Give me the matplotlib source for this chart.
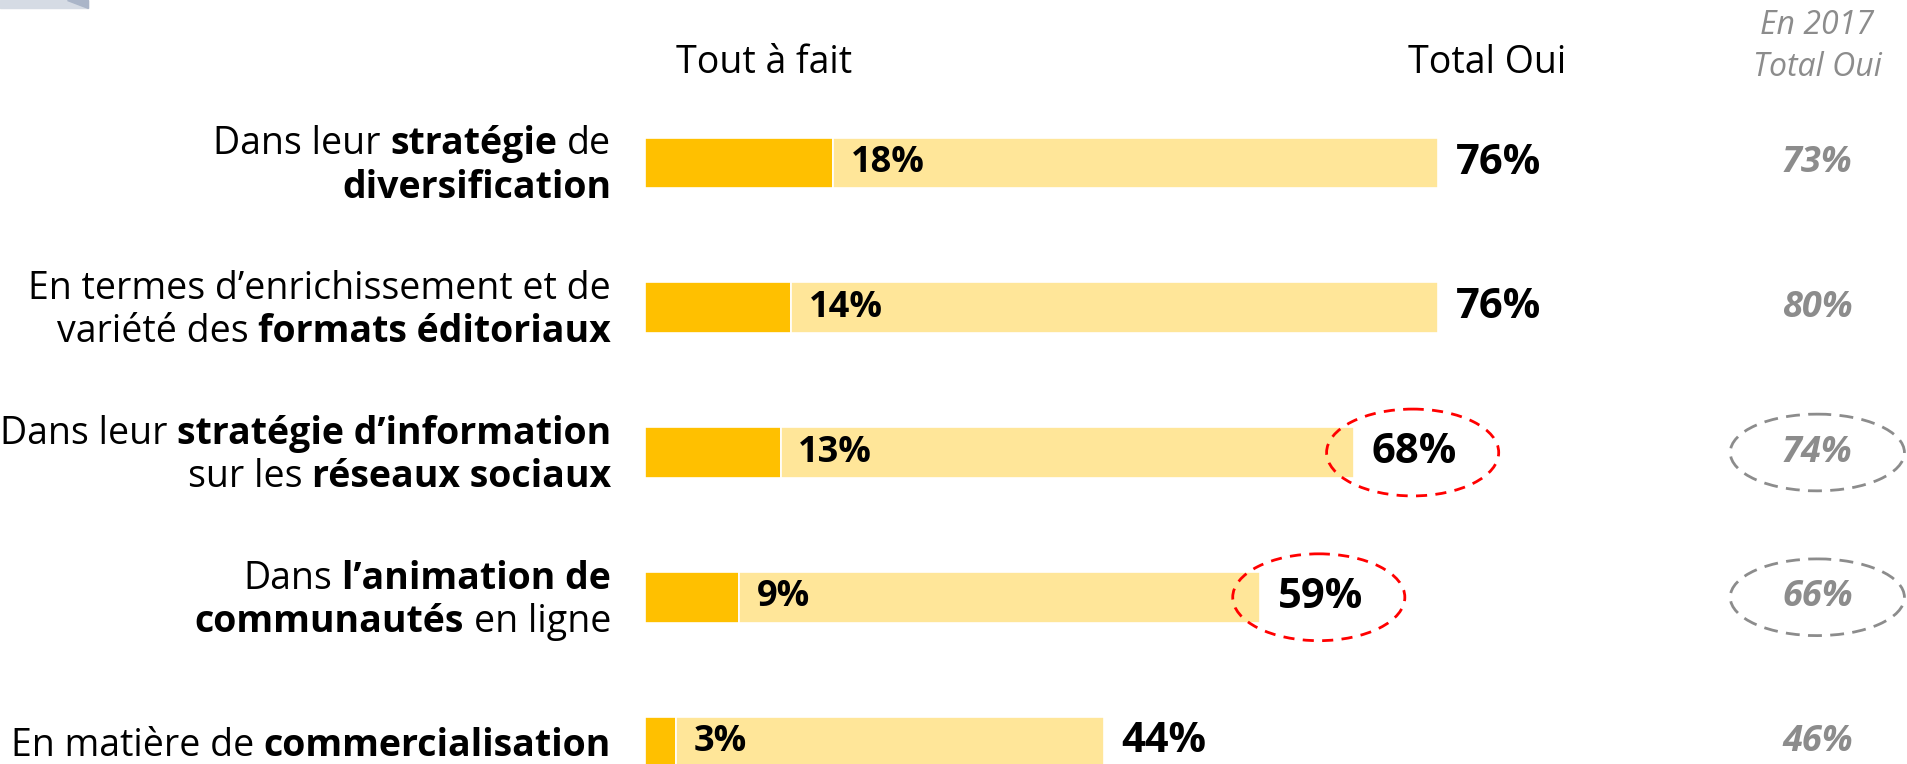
import matplotlib.pyplot as plt
import matplotlib.transforms as mtransforms
from matplotlib.patches import Ellipse, Rectangle, Polygon

# data
labels = [
    [[("Dans leur ", False), ("stratégie", True), (" de", False)],
     [("diversification", True)]],
    [[("En termes d’enrichissement et de", False)],
     [("variété des ", False), ("formats éditoriaux", True)]],
    [[("Dans leur ", False), ("stratégie d’information", True)],
     [("sur les ", False), ("réseaux sociaux", True)]],
    [[("Dans ", False), ("l’animation de", True)],
     [("communautés", True), (" en ligne", False)]],
    [[("En matière de ", False), ("commercialisation", True)]],
]
tout_a_fait = [18, 14, 13, 9, 3]
total_oui = [76, 76, 68, 59, 44]
total_2017 = [73, 80, 74, 66, 46]
highlight = [False, False, True, True, False]

DARK = "#FFC000"
LIGHT = "#FFE699"
GREY = "#8c8c8c"
FONT = "Open Sans"
plt.rcParams["font.family"] = [FONT, "DejaVu Sans"]

W, H, DPI = 1908, 764, 100
fig = plt.figure(figsize=(W / DPI, H / DPI), dpi=DPI)
ax = fig.add_axes([0, 0, 1, 1])
pxx = 10.43      # pixels per percent
x0 = 645         # pixel of 0 %
row_px = 144.75
y0 = 163
ax.set_xlim(-x0 / pxx, (W - x0) / pxx)
ax.set_ylim((H - y0) / row_px, -y0 / row_px)
ax.axis("off")

rows = range(len(total_oui))
bh = 0.352
ax.barh(rows, tout_a_fait, height=bh, color=DARK, edgecolor="white", linewidth=1.2)
ax.barh(rows, [t - d for t, d in zip(total_oui, tout_a_fait)], left=tout_a_fait,
        height=bh, color=LIGHT, edgecolor="white", linewidth=1.2)

for i in rows:
    ax.text(tout_a_fait[i] + 1.7, i, f"{tout_a_fait[i]}%", ha="left", va="center",
            fontsize=26, fontweight="bold", color="black")
    ax.text(total_oui[i] + 1.7, i, f"{total_oui[i]}%", ha="left", va="center",
            fontsize=30, fontweight="bold", color="black")
    ax.text(112.4, i, f"{total_2017[i]}%", ha="center", va="center",
            fontsize=26, fontweight="bold", style="italic", color=GREY)
    if highlight[i]:
        ax.add_patch(Ellipse((total_oui[i] + 5.6, i), 16.5, 0.6, fill=False,
                             edgecolor="red", lw=2, linestyle=(0, (4, 3))))
        ax.add_patch(Ellipse((112.4, i), 16.7, 0.53, fill=False,
                             edgecolor=GREY, lw=2, linestyle=(0, (5, 3))))

# headers
ax.text(11.4, -0.69, "Tout à fait", ha="center", va="center", fontsize=27)
ax.text(80.7, -0.69, "Total Oui", ha="center", va="center", fontsize=27)
ax.text(112.4, -0.95, "En 2017", ha="center", va="center", fontsize=23,
        style="italic", color=GREY)
ax.text(112.4, -0.66, "Total Oui", ha="center", va="center", fontsize=23,
        style="italic", color=GREY)

# category labels with mixed weight, right aligned
fig.canvas.draw()
rend = fig.canvas.get_renderer()
LFS = 27


def width(s, bold):
    t = ax.text(0, 0, s, fontsize=LFS, fontweight="bold" if bold else "normal")
    w = t.get_window_extent(rend).width
    t.remove()
    return w


x_right = (611 - x0) / pxx
for i, lines in enumerate(labels):
    offs = [-0.06, 0.24] if len(lines) == 2 else [0.1]
    for line, dy in zip(lines, offs):
        shift = 0.0
        for s, bold in reversed(line):
            sp = width("x x", bold) - width("xx", bold)
            core = s.strip()
            lead = len(s) - len(s.lstrip())
            trail = len(s) - len(s.rstrip())
            tr = mtransforms.offset_copy(ax.transData, fig=fig,
                                         x=-(shift + trail * sp), units="dots")
            ax.text(x_right, i + dy, core, ha="right", va="baseline", fontsize=LFS,
                    fontweight="bold" if bold else "normal", transform=tr)
            shift += width(core, bold) + (lead + trail) * sp

# corner decoration
fig.patches.append(Rectangle((0, 1 - 8 / H), 88 / W, 8 / H, transform=fig.transFigure,
                             color="#d5dbe4", zorder=0))
fig.patches.append(Polygon([(67 / W, 1), (88 / W, 1), (88 / W, 1 - 8 / H)],
                           transform=fig.transFigure, color="#aab5c8", zorder=0))

fig.savefig("out.png", dpi=DPI)
